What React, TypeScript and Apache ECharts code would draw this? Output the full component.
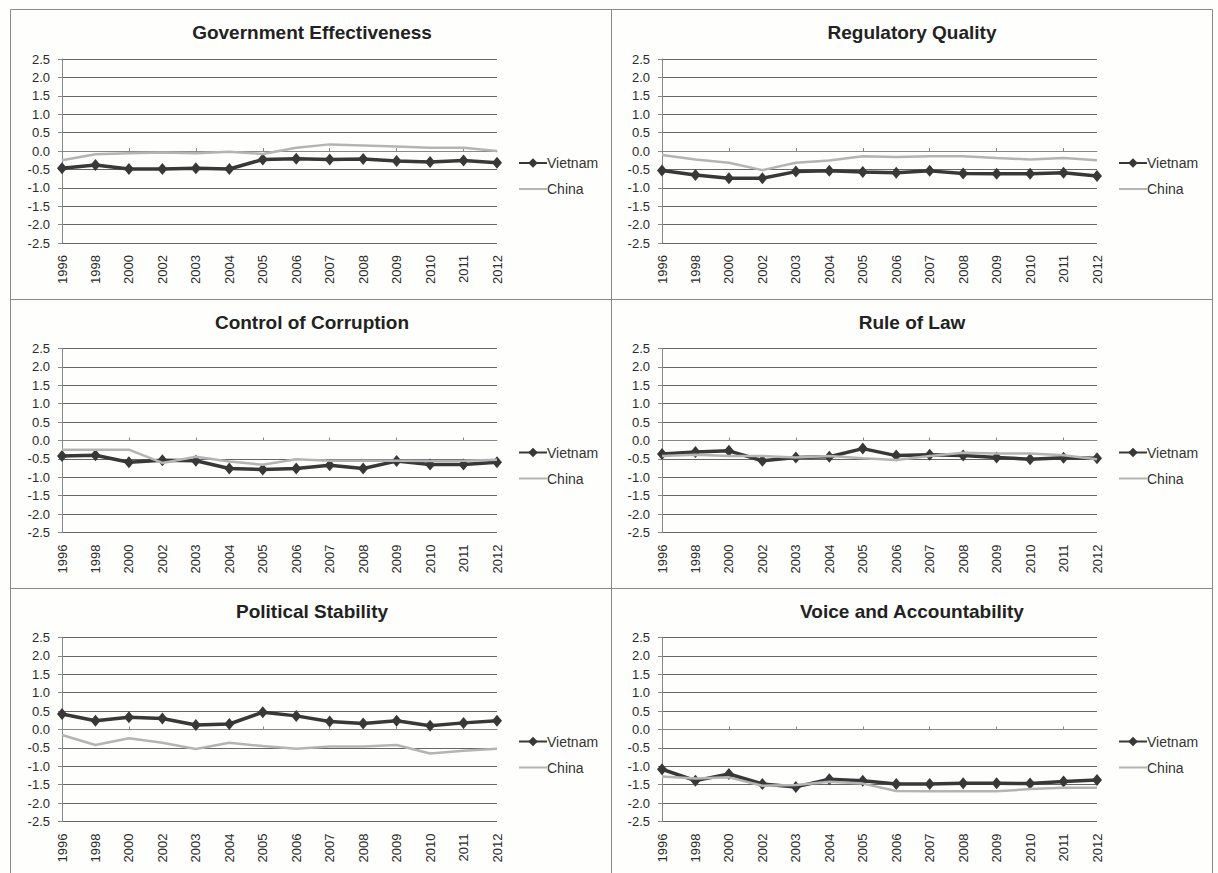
import React, { useEffect, useRef } from "react";
import * as echarts from "echarts";

// Governance indicator estimates, Vietnam vs. China
const years = ["1996", "1998", "2000", "2002", "2003", "2004", "2005", "2006", "2007", "2008", "2009", "2010", "2011", "2012"];

const titles = [
  "Government Effectiveness",
  "Regulatory Quality",
  "Control of Corruption",
  "Rule of Law",
  "Political Stability",
  "Voice and Accountability",
];

const govEffVietnam = [-0.47, -0.38, -0.49, -0.49, -0.47, -0.49, -0.23, -0.21, -0.23, -0.22, -0.27, -0.3, -0.26, -0.32];
const govEffChina = [-0.25, -0.09, -0.06, -0.04, -0.06, -0.02, -0.08, 0.09, 0.18, 0.15, 0.12, 0.09, 0.09, 0.0];

const regQualVietnam = [-0.53, -0.65, -0.74, -0.74, -0.56, -0.54, -0.57, -0.59, -0.54, -0.61, -0.62, -0.62, -0.59, -0.68];
const regQualChina = [-0.11, -0.23, -0.32, -0.52, -0.32, -0.26, -0.14, -0.16, -0.14, -0.14, -0.19, -0.23, -0.19, -0.25];

const corruptionVietnam = [-0.42, -0.4, -0.59, -0.54, -0.55, -0.76, -0.79, -0.76, -0.67, -0.76, -0.56, -0.65, -0.65, -0.59];
const corruptionChina = [-0.25, -0.25, -0.25, -0.61, -0.44, -0.57, -0.66, -0.51, -0.55, -0.55, -0.55, -0.56, -0.55, -0.52];

const lawVietnam = [-0.37, -0.31, -0.28, -0.55, -0.46, -0.44, -0.22, -0.41, -0.39, -0.41, -0.46, -0.51, -0.47, -0.48];
const lawChina = [-0.42, -0.39, -0.42, -0.42, -0.46, -0.42, -0.48, -0.53, -0.42, -0.33, -0.35, -0.35, -0.4, -0.51];

const stabilityVietnam = [0.42, 0.24, 0.33, 0.3, 0.12, 0.15, 0.47, 0.37, 0.22, 0.16, 0.24, 0.1, 0.18, 0.24];
const stabilityChina = [-0.15, -0.42, -0.24, -0.36, -0.53, -0.36, -0.45, -0.52, -0.46, -0.46, -0.42, -0.65, -0.58, -0.52];

const voiceVietnam = [-1.08, -1.39, -1.21, -1.48, -1.56, -1.35, -1.39, -1.48, -1.48, -1.46, -1.46, -1.47, -1.41, -1.37];
const voiceChina = [-1.28, -1.33, -1.3, -1.53, -1.51, -1.42, -1.47, -1.67, -1.68, -1.68, -1.68, -1.62, -1.58, -1.58];

const vietnamSeries = [govEffVietnam, regQualVietnam, corruptionVietnam, lawVietnam, stabilityVietnam, voiceVietnam];
const chinaSeries = [govEffChina, regQualChina, corruptionChina, lawChina, stabilityChina, voiceChina];

const yTicks = { min: -2.5, max: 2.5, interval: 0.5 };

const FONT = "'Liberation Sans', Arial, sans-serif";
const W = 1218;
const H = 873;

// panel layout: two columns, three rows
const colOffset = [0, 600];
const panelTop = [9, 299, 588];
const plotTop = [59, 348.5, 637.5];

export default function App() {
  const ref = useRef<HTMLDivElement>(null);

  useEffect(() => {
    if (!ref.current) return;
    const chart = echarts.init(ref.current, undefined, { renderer: "svg" });

    const grids: any[] = [];
    const xAxes: any[] = [];
    const yAxes: any[] = [];
    const series: any[] = [];
    const titleList: any[] = [];
    const legends: any[] = [];

    titles.forEach((t, i) => {
      const c = i % 2;
      const r = Math.floor(i / 2);
      const dx = colOffset[c];
      grids.push({ left: 62 + dx, top: plotTop[r], width: 435, height: 184 });

      titleList.push({
        text: t,
        left: 312 + dx,
        top: panelTop[r] + 13,
        textAlign: "center",
        padding: 0,
        textStyle: { fontFamily: FONT, fontSize: 19, fontWeight: "bold", color: "#222", lineHeight: 21 },
      });

      // category axis with the year labels along the bottom
      xAxes.push({
        type: "category",
        gridIndex: i,
        data: years,
        boundaryGap: false,
        position: "bottom",
        axisLine: { show: false, onZero: false },
        axisTick: { show: false },
        axisLabel: { rotate: 90, fontFamily: FONT, fontSize: 13, color: "#2a2a2a", margin: 12 },
        splitLine: { show: false },
      });
      // the same axis crossing at zero, line and ticks only
      xAxes.push({
        type: "category",
        gridIndex: i,
        data: years,
        boundaryGap: false,
        axisLine: { show: true, onZero: true, lineStyle: { color: "#888", width: 1 } },
        axisTick: { show: true, length: 3, inside: false, lineStyle: { color: "#888" } },
        axisLabel: { show: false },
        splitLine: { show: false },
      });

      yAxes.push({
        type: "value",
        gridIndex: i,
        min: yTicks.min,
        max: yTicks.max,
        interval: yTicks.interval,
        axisLine: { show: true, lineStyle: { color: "#888", width: 1 } },
        axisTick: { show: true, length: 4, lineStyle: { color: "#888" } },
        axisLabel: {
          fontFamily: FONT,
          fontSize: 13,
          color: "#2a2a2a",
          margin: 12,
          formatter: (v: number) => v.toFixed(1),
        },
        splitLine: { show: true, lineStyle: { color: "#666", width: 1 } },
      });

      series.push({
        name: "Vietnam",
        type: "line",
        xAxisIndex: i * 2,
        yAxisIndex: i,
        data: vietnamSeries[i],
        symbol: "diamond",
        symbolSize: [10, 12],
        showSymbol: true,
        lineStyle: { color: "#383838", width: 3.5 },
        itemStyle: { color: "#383838" },
        z: 3,
      });
      series.push({
        name: "China",
        type: "line",
        xAxisIndex: i * 2,
        yAxisIndex: i,
        data: chinaSeries[i],
        symbol: "none",
        lineStyle: { color: "#b4b4b4", width: 2.5 },
        itemStyle: { color: "#b4b4b4" },
        z: 4,
      });

      legends.push({
        orient: "vertical",
        left: 518 + dx,
        top: plotTop[r] + 97,
        itemWidth: 28,
        itemHeight: 12,
        itemGap: 12,
        padding: 0,
        data: [{ name: "Vietnam" }, { name: "China", itemStyle: { opacity: 0 } }],
        textStyle: { fontFamily: FONT, fontSize: 14, color: "#333", padding: [0, 0, 0, -5] },
      });
    });

    const borderStyle = { stroke: "#8a8a8a", lineWidth: 1 };
    chart.setOption({
      animation: false,
      backgroundColor: "#fefefc",
      title: titleList,
      legend: legends,
      grid: grids,
      xAxis: xAxes,
      yAxis: yAxes,
      series,
      graphic: [
        { type: "rect", shape: { x: 10.5, y: 9.5, width: 1202, height: 870 }, style: { fill: "none", ...borderStyle }, silent: true },
        { type: "line", shape: { x1: 611.5, y1: 9.5, x2: 611.5, y2: 873 }, style: borderStyle, silent: true },
        { type: "line", shape: { x1: 10.5, y1: 299.5, x2: 1212.5, y2: 299.5 }, style: borderStyle, silent: true },
        { type: "line", shape: { x1: 10.5, y1: 588.5, x2: 1212.5, y2: 588.5 }, style: borderStyle, silent: true },
      ],
    });

    return () => chart.dispose();
  }, []);

  return (
    <div
      ref={ref}
      style={{ position: "fixed", left: 0, top: 0, width: W, height: H, background: "#fefefc" }}
    />
  );
}
